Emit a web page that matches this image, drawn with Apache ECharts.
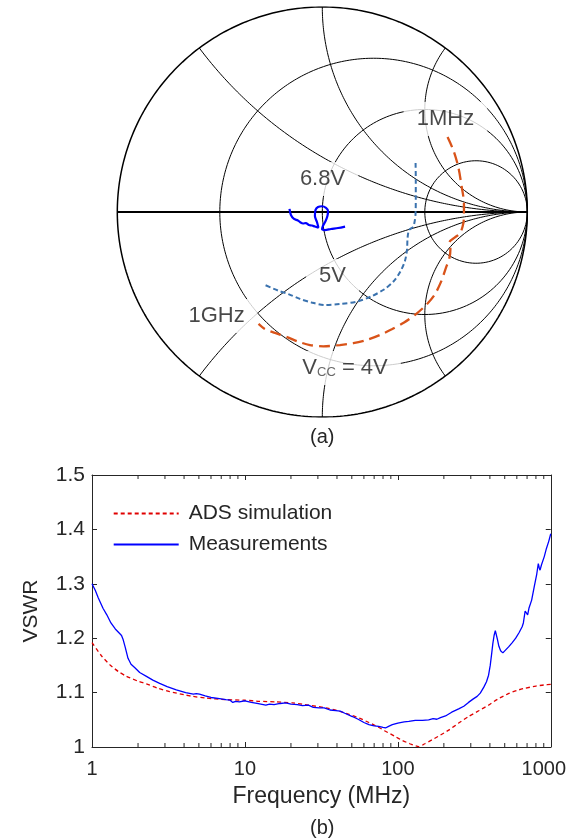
<!DOCTYPE html>
<html><head><meta charset="utf-8">
<script src="https://cdn.jsdelivr.net/npm/echarts@6/dist/echarts.min.js"></script>
<style>html,body{margin:0;padding:0;background:#fff}#c{width:569px;height:838px}</style>
</head><body><div id="c"></div>
<script>
// ===== (a) Smith chart =====
// grid values
const smithR = [1/3, 1, 3];
const smithX = [0.5, 1, 2];
// reflection coefficient traces (Re, Im)
const v4Re = [0.611,0.639,0.663,0.680,0.691,0.691,0.688,0.672,0.647,0.620,0.625,0.620,0.603,0.579,0.547,0.506,0.457,0.399,0.339,0.281,0.217,0.151,0.086,0.005,-0.060,-0.119,-0.172,-0.231,-0.280,-0.311];
const v4Im = [0.366,0.302,0.221,0.123,0.042,-0.006,-0.055,-0.104,-0.124,-0.149,-0.180,-0.224,-0.273,-0.341,-0.405,-0.454,-0.498,-0.539,-0.572,-0.600,-0.624,-0.640,-0.649,-0.655,-0.649,-0.632,-0.610,-0.590,-0.571,-0.546];
const v5Re = [0.455,0.456,0.456,0.455,0.450,0.442,0.423,0.416,0.413,0.403,0.381,0.347,0.301,0.238,0.169,0.086,0.013,-0.053,-0.109,-0.162,-0.216,-0.280];
const v5Im = [0.239,0.156,0.073,-0.005,-0.049,-0.073,-0.088,-0.127,-0.185,-0.239,-0.290,-0.339,-0.378,-0.412,-0.437,-0.449,-0.454,-0.441,-0.424,-0.402,-0.383,-0.356];
const v68Re = [-0.160,-0.153,-0.138,-0.119,-0.106,-0.094,-0.080,-0.065,-0.050,-0.036,-0.019,-0.026,-0.036,-0.033,-0.021,-0.001,0.018,0.028,0.025,0.016,0.003,-0.001,0.013,0.042,0.077,0.111];
const v68Im = [0.015,-0.015,-0.034,-0.041,-0.051,-0.056,-0.054,-0.063,-0.066,-0.071,-0.076,-0.049,-0.020,0.010,0.024,0.028,0.020,0.005,-0.020,-0.044,-0.068,-0.083,-0.088,-0.083,-0.078,-0.071];
const smithNoteText = ['1MHz', '6.8V', '5V', '1GHz', '{v|V}{s|CC}{v| = 4V}'];
const smithNoteRe = [0.601, 0.001, 0.050, -0.516, 0.111];
const smithNoteIm = [0.454, 0.161, -0.312, -0.507, -0.761];

// ===== (b) VSWR =====
const simFreq = [1,1.15,1.31,1.5,1.68,2,2.27,2.7,3.22,4,4.57,5.5,7.5,10,12.4,16,20.5,26,33.8,40,48,56,64.7,74,83,95,107,120,137,150,167,190,215,250,290,340,392,450,528,600,679,800,900,1000];
const simVswr = [1.192,1.168,1.151,1.138,1.130,1.121,1.116,1.108,1.102,1.096,1.093,1.090,1.087,1.086,1.084,1.083,1.081,1.077,1.072,1.067,1.060,1.053,1.045,1.037,1.029,1.020,1.012,1.006,1.0005,1.006,1.013,1.022,1.031,1.044,1.056,1.067,1.077,1.088,1.098,1.104,1.108,1.112,1.114,1.115];
const measFreq = [1,1.05,1.1,1.18,1.25,1.33,1.42,1.5,1.56,1.6,1.65,1.72,1.8,1.9,2.05,2.3,2.5,2.77,3.1,3.56,4.1,4.6,4.81,4.9,5.05,5.5,6.0,6.82,7.5,8.0,8.33,8.7,9.2,10,11,12,13.7,14.5,15.5,17,18.5,20,22,23.8,26,28,30.6,33,36,39.3,42,45,50.4,55,60,64.7,70,75,80,83,87,92,100,110,118,130,145,159,170,180,190,205,225,250,270,290,310,330,346,365,380,392,402,411,418,426,434,440,448,458,470,486,500,530,560,590,620,650,662,680,695,706,720,750,780,810,829,840,851,870,907,937,970,1000];
const measVswr = [1.300,1.288,1.274,1.255,1.243,1.228,1.217,1.210,1.205,1.197,1.183,1.163,1.152,1.146,1.137,1.129,1.123,1.117,1.111,1.105,1.100,1.097,1.098,1.100,1.097,1.094,1.091,1.089,1.087,1.086,1.082,1.084,1.083,1.085,1.082,1.080,1.077,1.079,1.078,1.080,1.081,1.079,1.078,1.076,1.077,1.073,1.072,1.072,1.068,1.067,1.066,1.062,1.056,1.051,1.045,1.041,1.039,1.038,1.036,1.035,1.038,1.041,1.044,1.046,1.047,1.049,1.049,1.050,1.052,1.051,1.054,1.057,1.064,1.070,1.075,1.082,1.088,1.093,1.099,1.110,1.120,1.132,1.150,1.172,1.190,1.205,1.214,1.212,1.198,1.185,1.177,1.173,1.176,1.184,1.192,1.200,1.210,1.221,1.228,1.250,1.253,1.243,1.255,1.270,1.295,1.318,1.337,1.330,1.325,1.335,1.350,1.365,1.378,1.392];
const minorTickFreq = [2,3,4,5,6,7,8,9,20,30,40,50,60,70,80,90,200,300,400,500,600,700,800,900];

const FF = '"Liberation Sans", Arial, Helvetica, sans-serif';
const TXT = '#262626';

function rCircle(r){
  const c = r/(1+r), p = 1/(1+r), pts = [];
  for (let i = 0; i <= 360; i++) { const a = i*Math.PI/180; pts.push([c + p*Math.cos(a), p*Math.sin(a)]); }
  return pts;
}
function xArc(x){
  const pts = [], N = 400;
  for (let i = 0; i <= N; i++) {
    if (i === N) { pts.push([1, 0]); continue; }
    const r = Math.tan(i/N*Math.PI/2);
    const d = (r+1)*(r+1) + x*x;
    pts.push([(r*r + x*x - 1)/d, 2*x/d]);
  }
  return pts;
}
const base = {type:'line', xAxisIndex:0, yAxisIndex:0, symbol:'none', showSymbol:false, silent:true, animation:false, z:1};
const series = [];
series.push(Object.assign({}, base, {data: rCircle(0), lineStyle:{color:'#000', width:1.5}}));
smithR.forEach(r => series.push(Object.assign({}, base, {data: rCircle(r), lineStyle:{color:'#000', width:1}})));
smithX.forEach(x => {
  series.push(Object.assign({}, base, {data: xArc(x), lineStyle:{color:'#000', width:1}}));
  series.push(Object.assign({}, base, {data: xArc(-x), lineStyle:{color:'#000', width:1}}));
});
series.push(Object.assign({}, base, {data: [[-1,0],[1,0]], lineStyle:{color:'#000', width:2}}));

// labels with white boxes
series.push({
  type:'scatter', xAxisIndex:0, yAxisIndex:0, symbolSize:1, silent:true, animation:false, z:3,
  itemStyle:{color:'rgba(0,0,0,0)'},
  data: smithNoteText.map((t,i) => ({value:[smithNoteRe[i], smithNoteIm[i]], label:{formatter:t}})),
  label:{show:true, position:'inside', fontSize:22, fontFamily:FF, color:'#1a1a1a', backgroundColor:'#fff', padding:[6,13],
    rich:{ v:{fontSize:22, fontFamily:FF, color:'#1a1a1a'}, s:{fontSize:13, fontFamily:FF, color:'#444', verticalAlign:'bottom'} }}
});

// traces
series.push({type:'line', xAxisIndex:0, yAxisIndex:0, symbol:'none', smooth:0.3, animation:false, z:5,
  data: v4Re.map((x,i)=>[x, v4Im[i]]), lineStyle:{color:'#D95319', width:2.3, type:[11,6]}});
series.push({type:'line', xAxisIndex:0, yAxisIndex:0, symbol:'none', smooth:0.3, animation:false, z:5,
  data: v5Re.map((x,i)=>[x, v5Im[i]]), lineStyle:{color:'#3A72AE', width:2, type:[5,3]}});
series.push({type:'line', xAxisIndex:0, yAxisIndex:0, symbol:'none', smooth:0.3, animation:false, z:5,
  data: v68Re.map((x,i)=>[x, v68Im[i]]), lineStyle:{color:'#0000FF', width:2.2}});

// VSWR series
series.push({name:'ADS simulation', type:'line', xAxisIndex:1, yAxisIndex:1, symbol:'none', smooth:0.2, animation:false, z:4,
  data: simFreq.map((f,i)=>[f, simVswr[i]]), lineStyle:{color:'#E00000', width:1.3, type:[4,3]}, itemStyle:{color:'#E00000', opacity:0}});
series.push({name:'Measurements', type:'line', xAxisIndex:1, yAxisIndex:1, symbol:'none', animation:false, z:5,
  data: measFreq.map((f,i)=>[f, measVswr[i]]), lineStyle:{color:'#0000FF', width:1.3}, itemStyle:{color:'#0000FF', opacity:0}});
// minor log ticks (top and bottom, inside)
series.push({type:'custom', xAxisIndex:1, yAxisIndex:1, silent:true, animation:false, z:6,
  data: minorTickFreq.map(f=>[f, 1]), encode:{x:0, y:1},
  renderItem: function(params, api){
    const f = api.value(0);
    const b = api.coord([f, 1]), t = api.coord([f, 1.5]);
    const st = {stroke:TXT, lineWidth:1};
    return {type:'group', children:[
      {type:'line', shape:{x1:b[0], y1:b[1], x2:b[0], y2:b[1]-4}, style:st},
      {type:'line', shape:{x1:t[0], y1:t[1], x2:t[0], y2:t[1]+4}, style:st}
    ]};
  }});

const axLine = {show:true, lineStyle:{color:TXT, width:1}};
const axTick = {show:true, inside:true, length:5, lineStyle:{color:TXT, width:1}};

const option = {
  animation:false,
  backgroundColor:'#fff',
  grid:[
    {left:117.3, top:7, width:410, height:410},
    {left:92, top:475, width:460.6, height:272}
  ],
  xAxis:[
    {gridIndex:0, type:'value', min:-1, max:1, show:false},
    {gridIndex:1, type:'log', logBase:10, min:1, max:1000, position:'bottom',
      axisLine:axLine, axisTick:axTick, splitLine:{show:false},
      axisLabel:{fontSize:20, fontFamily:FF, color:TXT, margin:12,
        formatter: v => v >= 1000 ? '{r|' + v + '}' : String(v),
        rich:{r:{fontSize:20, fontFamily:FF, color:TXT, padding:[0,14,0,0]}}},
      name:'Frequency (MHz)', nameLocation:'middle', nameGap:38,
      nameTextStyle:{fontSize:23, fontFamily:FF, color:TXT}},
    {gridIndex:1, type:'log', logBase:10, min:1, max:1000, position:'top',
      axisLine:axLine, axisTick:axTick, axisLabel:{show:false}, splitLine:{show:false}}
  ],
  yAxis:[
    {gridIndex:0, type:'value', min:-1, max:1, show:false},
    {gridIndex:1, type:'value', min:1, max:1.5, interval:0.1, position:'left',
      axisLine:axLine, axisTick:axTick, splitLine:{show:false},
      axisLabel:{fontSize:21, fontFamily:FF, color:TXT, margin:7},
      name:'VSWR', nameLocation:'middle', nameGap:50,
      nameTextStyle:{fontSize:21, fontFamily:FF, color:TXT}},
    {gridIndex:1, type:'value', min:1, max:1.5, interval:0.1, position:'right',
      axisLine:axLine, axisTick:axTick, axisLabel:{show:false}, splitLine:{show:false}}
  ],
  legend:{
    data:['ADS simulation','Measurements'], orient:'vertical', left:107.7, top:498,
    itemWidth:65, itemHeight:14, itemGap:10,
    itemStyle:{opacity:0},
    textStyle:{fontSize:21, fontFamily:FF, color:TXT, padding:[0,0,0,5]}
  },
  graphic:[
    {type:'text', x:322.3, y:437, style:{text:'(a)', fontSize:20, fontFamily:FF, fill:TXT, align:'center', verticalAlign:'middle'}},
    {type:'text', x:322.3, y:828, style:{text:'(b)', fontSize:20, fontFamily:FF, fill:TXT, align:'center', verticalAlign:'middle'}}
  ],
  series: series
};
const chart = echarts.init(document.getElementById('c'), null, {renderer:'canvas'});
chart.setOption(option);
</script></body></html>
